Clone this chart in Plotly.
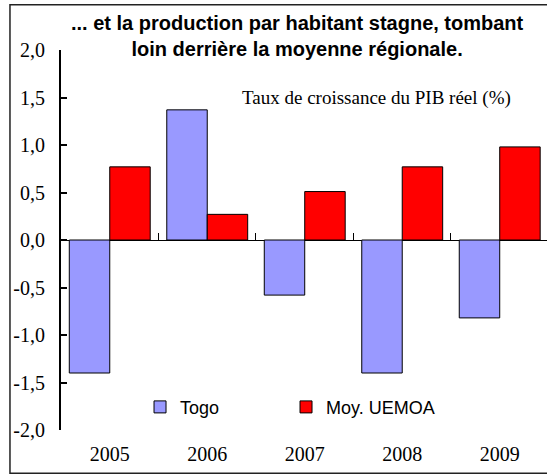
import plotly.graph_objects as go

years = ["2005", "2006", "2007", "2008", "2009"]
togo = [-1.40, 1.37, -0.58, -1.40, -0.82]
uemoa = [0.77, 0.27, 0.51, 0.77, 0.98]
ytick_vals = [2.0, 1.5, 1.0, 0.5, 0.0, -0.5, -1.0, -1.5, -2.0]
ytick_text = ["2,0", "1,5", "1,0", "0,5", "0,0", "-0,5", "-1,0", "-1,5", "-2,0"]

serif = "Liberation Serif, Times New Roman, serif"
sans = "Liberation Sans, Arial, sans-serif"

fig = go.Figure()
fig.add_trace(go.Bar(x=years, y=togo, name="Togo", legend="legend",
                     marker=dict(color="#9999FF", line=dict(color="black", width=1))))
fig.add_trace(go.Bar(x=years, y=uemoa, name="Moy. UEMOA", legend="legend2",
                     marker=dict(color="#FF0000", line=dict(color="black", width=1))))
# invisible trace carrying the year labels on the bottom axis (x2)
fig.add_trace(go.Scatter(x=years, y=[0] * len(years), xaxis="x2", mode="markers",
                         marker=dict(opacity=0), showlegend=False, hoverinfo="skip"))

leg_font = dict(family=sans, size=18, color="black")
xrange = [-0.5, 4.485]

fig.update_layout(
    width=547, height=475,
    margin=dict(l=61, r=0, t=50, b=45),
    plot_bgcolor="white", paper_bgcolor="white",
    barmode="group", bargap=0.17, bargroupgap=0,
    showlegend=True,
    legend=dict(orientation="h", x=0.1626, y=0.06, xanchor="left", yanchor="middle",
                font=leg_font, bgcolor="rgba(0,0,0,0)"),
    legend2=dict(orientation="h", x=0.463, y=0.06, xanchor="left", yanchor="middle",
                 font=leg_font, bgcolor="rgba(0,0,0,0)"),
    # main x axis sits on the zero line: only small ticks between categories
    xaxis=dict(type="category", anchor="free", position=0.5, range=xrange,
               showline=False, showgrid=False, zeroline=False, showticklabels=False,
               tickson="boundaries", ticks="inside", ticklen=7, tickwidth=1,
               tickcolor="black"),
    # second x axis at the bottom carries the year labels
    xaxis2=dict(type="category", overlaying="x", anchor="y", side="bottom", range=xrange,
                categoryorder="array", categoryarray=years,
                showline=False, showgrid=False, zeroline=False,
                ticks="", ticklabelstandoff=10,
                tickfont=dict(family=serif, size=20, color="black")),
    yaxis=dict(range=[-2, 2], tickvals=ytick_vals, ticktext=ytick_text,
               showline=True, linecolor="black", linewidth=2,
               ticks="inside", ticklen=6, tickwidth=2, tickcolor="black",
               showgrid=False, zeroline=True, zerolinecolor="black", zerolinewidth=1,
               ticklabelstandoff=10,
               tickfont=dict(family=serif, size=20, color="black")),
    shapes=[dict(type="rect", xref="paper", yref="paper",
                 x0=-0.105, x1=1.05, y0=-0.1135, y1=1.119,
                 line=dict(color="#222222", width=1.5), layer="above")],
    annotations=[
        dict(text="<b>... et la production par habitant stagne, tombant<br>loin derrière la moyenne régionale.</b>",
             xref="paper", yref="paper", x=0.486, y=1.038, xanchor="center", yanchor="middle",
             showarrow=False, font=dict(family=sans, size=20, color="black")),
        dict(text="Taux de croissance du PIB réel (%)",
             xref="paper", yref="paper", x=0.368, y=0.873, xanchor="left", yanchor="middle",
             showarrow=False, font=dict(family=serif, size=19, color="black")),
    ],
)

fig.write_html("out.html", config={"displayModeBar": False},
               post_script="document.body.style.margin='0px';")
